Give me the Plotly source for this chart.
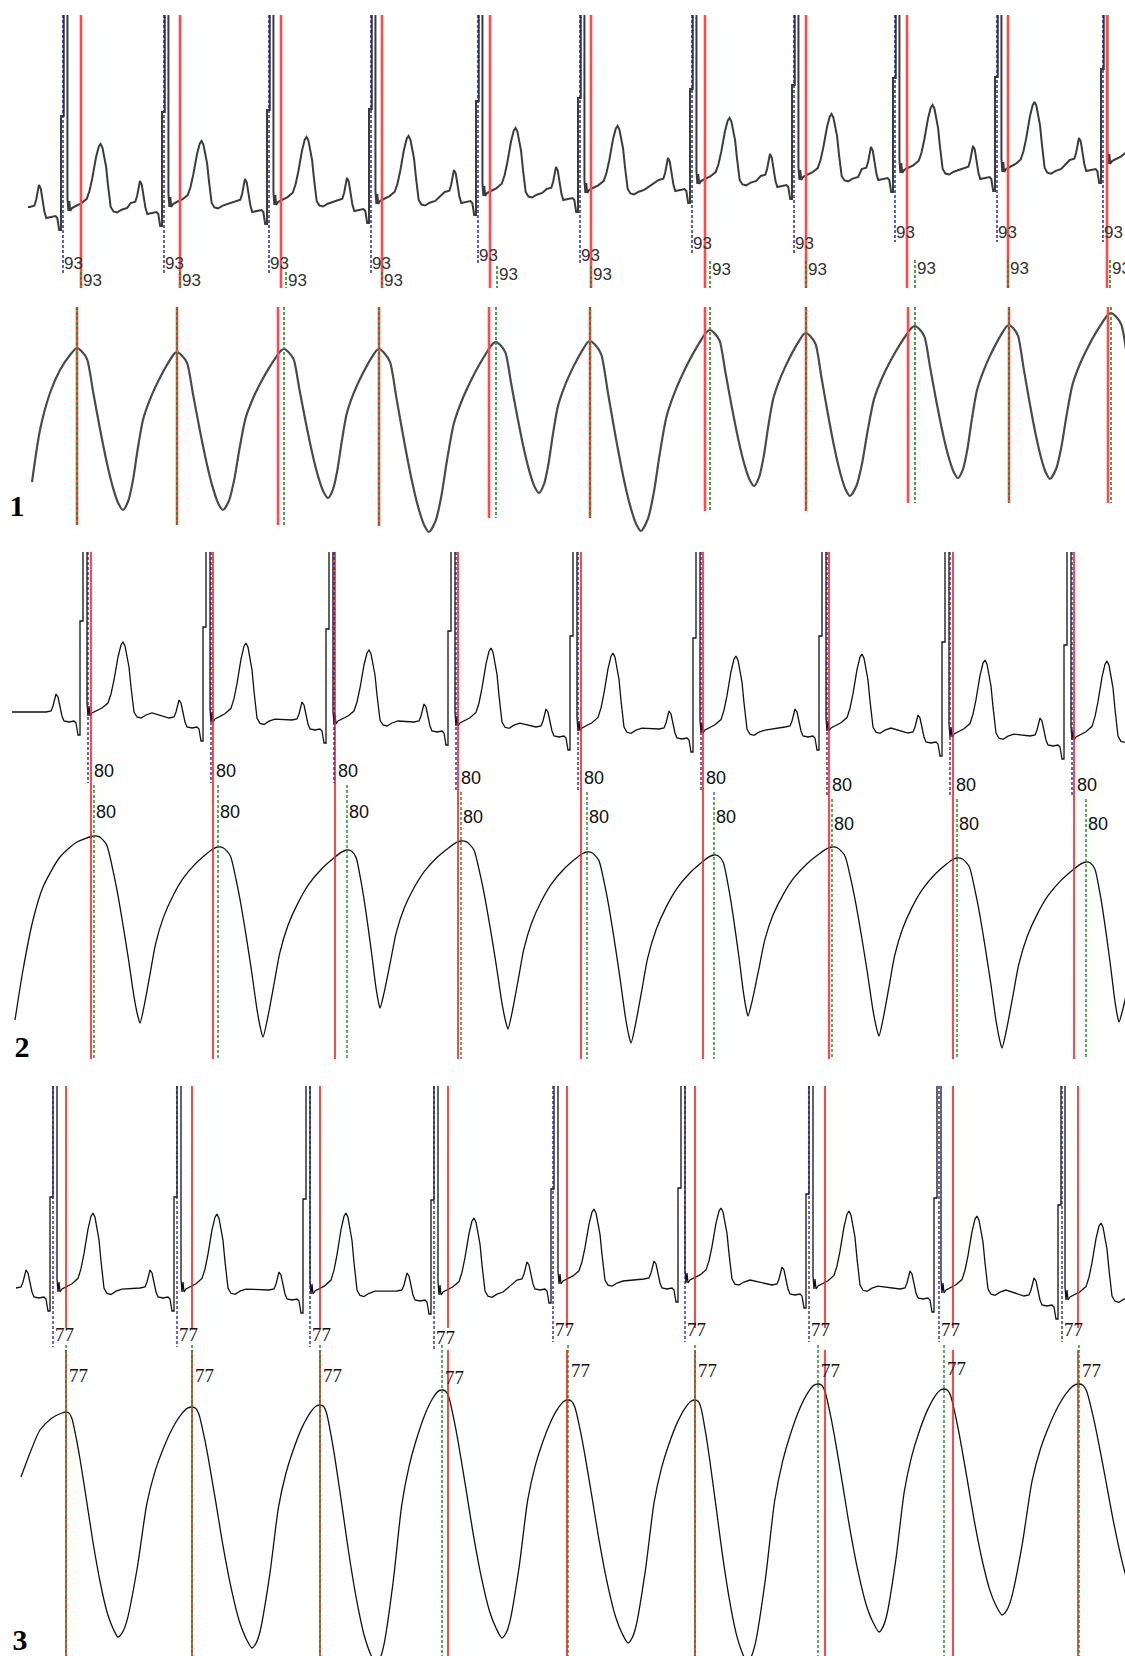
import plotly.graph_objects as go

FIG_W, FIG_H = 1125, 1656

# Vertical extent (pixel rows, top -> bottom) of each strip
strip_p1_ecg = (15, 288)
strip_p1_pulse = (298, 545)
strip_p2 = (552, 1075)
strip_p3 = (1086, 1656)

# One ECG complex relative to the QRS onset: sample offset and height above baseline
beat_dx = [-34, -29, -27, -25, -24, -22, -20, -18, -16, -11, -6, -4, -2, 0, 0, 3, 3,
           7, 7, 8, 9, 10, 12, 16, 22, 28, 31, 34, 38, 41, 43, 45, 47, 49, 51, 54,
           57, 61, 66, 72]
beat_amp = [0, 1, 6, 14, 18, 15, 6, -4, -9, -10, -9, -11, -23, -23, 91, 91, 600,
            600, 9, -4, 6, -4, -1, 1, 4, 9, 18, 32, 55, 67, 70, 66, 55, 45, 25, 0,
            -5, -6, -3, -1]
ref_p_height = 18
ref_t_height = 70

# Pulse-wave cycle shapes: (time fraction, height fraction)
p1_rise = [(0, 0), (0.1, 0.06), (0.185, 0.19), (0.27, 0.38), (0.37, 0.57), (0.5, 0.7),
           (0.63, 0.8), (0.75, 0.88), (0.87, 0.95), (0.95, 0.99), (1, 1)]
p1_fall = [(0, 0), (0.1, 0.02), (0.22, 0.07), (0.35, 0.27), (0.5, 0.5), (0.65, 0.71),
           (0.78, 0.86), (0.9, 0.96), (1, 1)]
p2_rise = [(0, 0), (0.05, 0.09), (0.13, 0.28), (0.2, 0.45), (0.3, 0.6), (0.42, 0.72),
           (0.55, 0.82), (0.7, 0.9), (0.85, 0.96), (0.94, 0.99), (1, 1)]
p2_fall = [(0, 0), (0.12, 0.005), (0.27, 0.045), (0.4, 0.17), (0.5, 0.29), (0.62, 0.46),
           (0.75, 0.66), (0.87, 0.86), (0.95, 0.96), (1, 1)]
p3_rise = [(0, 0), (0.06, 0.02), (0.12, 0.07), (0.26, 0.3), (0.39, 0.58), (0.5, 0.72),
           (0.6, 0.81), (0.74, 0.91), (0.86, 0.97), (0.94, 0.995), (1, 1)]
p3_fall = [(0, 0), (0.06, 0.005), (0.115, 0.03), (0.2, 0.12), (0.27, 0.21), (0.4, 0.4),
           (0.52, 0.58), (0.66, 0.76), (0.79, 0.89), (0.9, 0.96), (1, 1)]

# ---------------- Recording 1 ----------------
p1_ecg_start = 28
p1_time_scale = 0.92
p1_p_height = 22
p1_qrs_onset = [61, 162, 267, 369, 476, 578, 690, 792, 893, 995, 1101]
p1_baseline = [207, 203, 201, 200, 192, 189, 180, 176, 169, 168, 160]
p1_t_height = [63, 62, 64, 64, 64, 63, 62, 62, 64, 66, 64]
p1_r_mark = [63, 164, 269, 371, 478, 580, 692, 794, 895, 997, 1103]
p1_ecg_red = [81, 180, 281, 382, 490, 591, 705, 806, 907, 1008, 1107]
p1_green_tick = [81, 180, 286, 382, 497, 591, 710, 806, 915, 1008, 1110]
p1_row1_y = [265, 265, 265, 265, 257, 257, 245, 245, 234, 234, 234]
p1_row2_y = [282, 282, 282, 282, 276, 276, 271, 271, 270, 270, 270]
p1_labels = ["93", "93", "93", "93", "93", "93", "93", "93", "93", "93", "93"]
p1_pulse_red = [77, 177, 278, 379, 489, 590, 705, 806, 908, 1009, 1108]
p1_pulse_green = [77, 177, 284, 379, 496, 590, 710, 806, 915, 1009, 1111]
p1_mark_top = 307
p1_mark_bottom = [525, 525, 525, 526, 518, 518, 511, 511, 503, 503, 503]
p1_lead_x = [32, 40, 50, 60, 70]
p1_lead_y = [482, 430, 393, 370, 355]
p1_peak_x = [77, 177, 284, 379, 496, 590, 710, 806, 915, 1009, 1111]
p1_peak_y = [348, 352, 349, 349, 342, 341, 330, 333, 326, 325, 313]
p1_trough_x = [123, 223, 328, 429, 539, 641, 754, 850, 958, 1050, 1158]
p1_trough_y = [510, 510, 498, 532, 493, 531, 486, 496, 478, 479, 480]

# ---------------- Recording 2 ----------------
p2_ecg_start = 12
p2_time_scale = 1.0
p2_p_height = 18
p2_qrs_onset = [80, 203, 326, 448, 570, 693, 819, 942, 1064]
p2_baseline = [712, 718, 720, 722, 727, 729, 727, 733, 736]
p2_t_height = [70, 75, 70, 74, 74, 73, 73, 73, 75]
p2_r_mark = [88, 211, 334, 456, 578, 701, 827, 950, 1072]
p2_red = [91, 213, 335, 458, 581, 703, 829, 953, 1074]
p2_green = [94, 218, 347, 461, 587, 714, 832, 957, 1086]
p2_row1_y = [772, 772, 772, 779, 779, 779, 786, 786, 786]
p2_row2_y = [813, 813, 813, 818, 818, 818, 825, 825, 825]
p2_labels = ["80", "80", "80", "80", "80", "80", "80", "80", "80"]
p2_mark_bottom = 1059
p2_lead_x = [15, 23, 33, 43, 60, 77]
p2_lead_y = [1020, 970, 920, 887, 857, 842]
p2_peak_x = [94, 218, 347, 461, 587, 714, 832, 957, 1086, 1200]
p2_peak_y = [836, 847, 850, 841, 852, 855, 847, 858, 862, 870]
p2_trough_x = [140, 263, 380, 508, 631, 748, 879, 1002, 1119]
p2_trough_y = [1023, 1037, 1008, 1029, 1043, 1016, 1036, 1048, 1022]

# ---------------- Recording 3 ----------------
p3_ecg_start = 16
p3_time_scale = 1.0
p3_p_height = 18
p3_qrs_onset = [50, 174, 303, 431, 551, 678, 806, 934, 1058]
p3_baseline = [1288, 1288, 1290, 1291, 1280, 1279, 1285, 1289, 1296]
p3_t_height = [75, 74, 77, 73, 71, 71, 74, 73, 73]
p3_r_mark = [53, 177, 310, 434, 553, 685, 809, 939, 1062]
p3_red = [66, 192, 320, 448, 567, 695, 825, 953, 1078]
p3_green = [66, 192, 320, 442, 568, 695, 818, 944, 1079]
p3_row1_y = [1336, 1336, 1336, 1339, 1331, 1331, 1331, 1331, 1331]
p3_row2_y = [1377, 1377, 1377, 1379, 1372, 1372, 1372, 1370, 1372]
p3_labels = ["77", "77", "77", "77", "77", "77", "77", "77", "77"]
p3_red_upper_end = 1328
p3_red_lower_start = 1350
p3_green_start = 1345
p3_lead_x = [21, 30, 40, 52, 62]
p3_lead_y = [1477, 1453, 1430, 1418, 1413]
p3_peak_x = [66, 192, 320, 442, 568, 695, 818, 944, 1079]
p3_peak_y = [1412, 1407, 1405, 1390, 1400, 1400, 1384, 1389, 1384]
p3_trough_x = [118, 252, 376, 502, 628, 747, 879, 1002, 1145]
p3_trough_y = [1637, 1648, 1664, 1638, 1643, 1662, 1632, 1615, 1620]

# Strip numbers
strip_numbers = ["1", "2", "3"]
strip_number_x = [17, 22, 20]
strip_number_y = [508, 1049, 1642]


def ecg_trace_points(onsets, bases, t_heights, p_height, tscale, x_start):
    # flat lead-in from the first recorded sample
    xs, ys = [x_start], [bases[0]]
    for r, b, th in zip(onsets, bases, t_heights):
        for dx, a in zip(beat_dx, beat_amp):
            if -30 <= dx <= -16:
                a = a * p_height / ref_p_height
            elif dx >= 22:
                a = a * th / ref_t_height
            x = r + dx * tscale
            if x <= x_start:
                continue
            xs.append(x)
            ys.append(b - a)
    return xs, ys


def pulse_trace_points(lead_x, lead_y, peak_x, peak_y, trough_x, trough_y, rise, fall):
    ext = [(x, y, "peak") for x, y in zip(peak_x, peak_y)]
    ext += [(x, y, "trough") for x, y in zip(trough_x, trough_y)]
    ext.sort(key=lambda e: e[0])
    xs, ys = list(lead_x), list(lead_y)
    xs.append(ext[0][0])
    ys.append(ext[0][1])
    for (x0, y0, k0), (x1, y1, _) in zip(ext[:-1], ext[1:]):
        shape = fall if k0 == "peak" else rise
        for f, g in shape[1:]:
            xs.append(x0 + f * (x1 - x0))
            ys.append(y0 + g * (y1 - y0))
    return xs, ys


def vsegs(xs, y0s, y1s):
    out_x, out_y = [], []
    for x, a, b in zip(xs, y0s, y1s):
        out_x += [x, x, None]
        out_y += [a, b, None]
    return out_x, out_y


def const(v, n):
    return [v for _ in range(n)]


fig = go.Figure()

RED1 = "#ff4a4a"
RED = "#ff1a1a"
GREEN = "#1e8c1e"
BLUE = "#1c1ca8"
DASH = "3px,2px"
SANS = "Liberation Sans, Arial, sans-serif"
SERIF = "Liberation Serif, Times New Roman, serif"


def add_line(xs, ys, yaxis, color, width, dash="solid", shape="linear"):
    line = dict(color=color, width=width, dash=dash, shape=shape)
    if shape == "spline":
        line["smoothing"] = 0.7
    fig.add_trace(go.Scatter(x=xs, y=ys, xaxis="x", yaxis=yaxis, mode="lines", line=line,
                             hoverinfo="skip", showlegend=False))


def add_text(xs, ys, texts, yaxis, family, size, color, pos="middle right", weight="normal"):
    fig.add_trace(go.Scatter(x=xs, y=ys, xaxis="x", yaxis=yaxis, mode="text", text=texts,
                             textposition=pos, cliponaxis=True,
                             textfont=dict(family=family, size=size, color=color, weight=weight),
                             hoverinfo="skip", showlegend=False))


# ---- Recording 1: ECG strip ----
n1 = len(p1_qrs_onset)
ex, ey = ecg_trace_points(p1_qrs_onset, p1_baseline, p1_t_height, p1_p_height,
                          p1_time_scale, p1_ecg_start)
add_line(ex, ey, "y", "#3c3c3c", 2.0)
x, y = vsegs(p1_ecg_red, const(strip_p1_ecg[0], n1), const(strip_p1_ecg[1], n1))
add_line(x, y, "y", RED1, 2.6)
x, y = vsegs(p1_green_tick, [r - 10 for r in p1_row2_y], const(strip_p1_ecg[1], n1))
add_line(x, y, "y", GREEN, 1.6, DASH)
x, y = vsegs(p1_r_mark, const(strip_p1_ecg[0], n1), [r + 8 for r in p1_row1_y])
add_line(x, y, "y", BLUE, 1.4, DASH)
add_text([v + 1 for v in p1_r_mark], p1_row1_y, p1_labels, "y", SANS, 17, "#333333")
add_text([v + 2 for v in p1_green_tick], p1_row2_y, p1_labels, "y", SANS, 17, "#333333")

# ---- Recording 1: pulse strip ----
px, py = pulse_trace_points(p1_lead_x, p1_lead_y, p1_peak_x, p1_peak_y,
                            p1_trough_x, p1_trough_y, p1_rise, p1_fall)
add_line(px, py, "y2", "#4a4a4a", 2.2, shape="spline")
x, y = vsegs(p1_pulse_red, const(p1_mark_top, n1), p1_mark_bottom)
add_line(x, y, "y2", RED1, 2.6)
x, y = vsegs(p1_pulse_green, const(p1_mark_top, n1), p1_mark_bottom)
add_line(x, y, "y2", GREEN, 1.6, DASH)
add_text(strip_number_x[0:1], strip_number_y[0:1], strip_numbers[0:1], "y2", SERIF, 30,
         "#000000", "middle center", "bold")

# ---- Recording 2 ----
n2 = len(p2_qrs_onset)
ex, ey = ecg_trace_points(p2_qrs_onset, p2_baseline, p2_t_height, p2_p_height,
                          p2_time_scale, p2_ecg_start)
add_line(ex, ey, "y3", "#111111", 1.3)
px, py = pulse_trace_points(p2_lead_x, p2_lead_y, p2_peak_x, p2_peak_y,
                            p2_trough_x, p2_trough_y, p2_rise, p2_fall)
add_line(px, py, "y3", "#111111", 1.3, shape="spline")
x, y = vsegs(p2_red, const(strip_p2[0], n2), const(p2_mark_bottom, n2))
add_line(x, y, "y3", RED, 1.6)
x, y = vsegs(p2_green, [r + 13 for r in p2_row1_y], const(p2_mark_bottom, n2))
add_line(x, y, "y3", GREEN, 1.4, DASH)
x, y = vsegs(p2_r_mark, const(strip_p2[0], n2), [r + 11 for r in p2_row1_y])
add_line(x, y, "y3", BLUE, 1.3, DASH)
add_text([v + 3 for v in p2_red], p2_row1_y, p2_labels, "y3", SANS, 18, "#111111")
add_text([v + 2 for v in p2_green], p2_row2_y, p2_labels, "y3", SANS, 18, "#111111")
add_text(strip_number_x[1:2], strip_number_y[1:2], strip_numbers[1:2], "y3", SERIF, 30,
         "#000000", "middle center", "bold")

# ---- Recording 3 ----
n3 = len(p3_qrs_onset)
ex, ey = ecg_trace_points(p3_qrs_onset, p3_baseline, p3_t_height, p3_p_height,
                          p3_time_scale, p3_ecg_start)
add_line(ex, ey, "y4", "#111111", 1.3)
px, py = pulse_trace_points(p3_lead_x, p3_lead_y, p3_peak_x, p3_peak_y,
                            p3_trough_x, p3_trough_y, p3_rise, p3_fall)
add_line(px, py, "y4", "#111111", 1.3, shape="spline")
x, y = vsegs(p3_red, const(strip_p3[0], n3), const(p3_red_upper_end, n3))
add_line(x, y, "y4", RED, 1.6)
x, y = vsegs(p3_red, const(p3_red_lower_start, n3), const(strip_p3[1], n3))
add_line(x, y, "y4", RED, 1.6)
x, y = vsegs(p3_green, const(p3_green_start, n3), const(strip_p3[1], n3))
add_line(x, y, "y4", GREEN, 1.4, DASH)
x, y = vsegs(p3_r_mark, const(strip_p3[0], n3), [r + 11 for r in p3_row1_y])
add_line(x, y, "y4", BLUE, 1.3, DASH)
add_text([v + 2 for v in p3_r_mark], p3_row1_y, p3_labels, "y4", SERIF, 19, "#111111")
add_text([v + 3 for v in p3_green], p3_row2_y, p3_labels, "y4", SERIF, 19, "#111111")
add_text(strip_number_x[2:3], strip_number_y[2:3], strip_numbers[2:3], "y4", SERIF, 30,
         "#000000", "middle center", "bold")


def strip_axis(strip):
    top, bottom = strip
    return dict(domain=[1 - bottom / FIG_H, 1 - top / FIG_H], range=[bottom, top],
                anchor="x", visible=False, fixedrange=True)


fig.update_layout(
    width=FIG_W, height=FIG_H,
    margin=dict(l=0, r=0, t=0, b=0),
    paper_bgcolor="white", plot_bgcolor="white",
    xaxis=dict(range=[0, FIG_W], domain=[0, 1], visible=False, fixedrange=True, anchor="y"),
    yaxis=strip_axis(strip_p1_ecg),
    yaxis2=strip_axis(strip_p1_pulse),
    yaxis3=strip_axis(strip_p2),
    yaxis4=strip_axis(strip_p3),
    showlegend=False,
)
fig.write_html("out.html", config={"displayModeBar": False})
